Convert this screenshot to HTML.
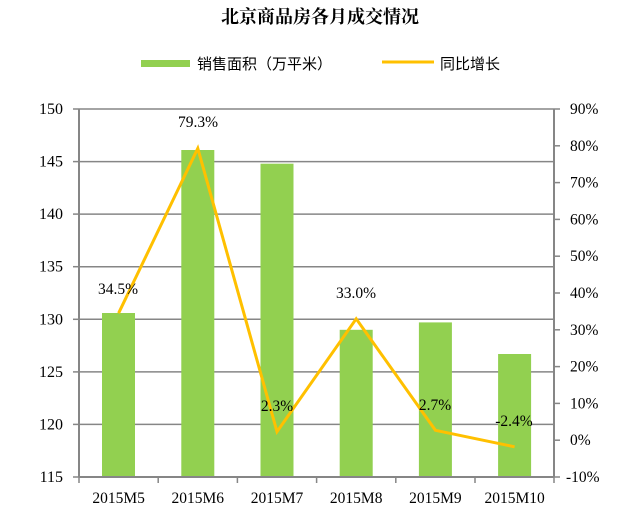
<!DOCTYPE html>
<html><head><meta charset="utf-8"><style>
body{margin:0;background:#fff}
text{font-family:"Liberation Serif","Noto Serif CJK SC",serif;fill:#000}
.c{font-family:"Liberation Sans","Noto Sans CJK SC",sans-serif}
</style></head><body>
<svg width="640" height="520" xmlns="http://www.w3.org/2000/svg">
<text x="320" y="23" text-anchor="middle" font-size="18" font-weight="bold" font-family="Noto Serif CJK SC, serif">北京商品房各月成交情况</text>
<rect x="141" y="60" width="49" height="7" fill="#92D050"/>
<text class="c" x="197" y="69" font-size="15">销售面积（万平米）</text>
<line x1="382" y1="62" x2="434" y2="62" stroke="#FFC000" stroke-width="3"/>
<text class="c" x="440" y="69" font-size="15">同比增长</text>
<g stroke="#868686" stroke-width="1.5">
<line x1="79" y1="109" x2="554" y2="109"/>
<line x1="79" y1="161.6" x2="554" y2="161.6"/>
<line x1="79" y1="214.1" x2="554" y2="214.1"/>
<line x1="79" y1="266.7" x2="554" y2="266.7"/>
<line x1="79" y1="319.3" x2="554" y2="319.3"/>
<line x1="79" y1="371.9" x2="554" y2="371.9"/>
<line x1="79" y1="424.4" x2="554" y2="424.4"/>
</g>
<g fill="#92D050">
<rect x="102" y="313" width="33" height="164"/>
<rect x="181.3" y="150" width="33" height="327"/>
<rect x="260.5" y="163.7" width="33" height="313.3"/>
<rect x="339.7" y="329.8" width="33" height="147.2"/>
<rect x="418.9" y="322.4" width="33" height="154.6"/>
<rect x="498.1" y="354" width="33" height="123"/>
</g>
<polyline fill="none" stroke="#FFC000" stroke-width="3" points="118.6,313.2 197.8,148.4 277,431.7 356.2,318.8 435.4,430.3 514.6,446.8"/>
<g stroke="#868686" stroke-width="2">
<line x1="79" y1="109" x2="79" y2="477"/>
<line x1="554" y1="109" x2="554" y2="477"/>
<line x1="79" y1="477" x2="554" y2="477"/>
</g>
<g stroke="#868686" stroke-width="1.5">
<line x1="73" y1="109" x2="79" y2="109"/><line x1="73" y1="161.6" x2="79" y2="161.6"/><line x1="73" y1="214.1" x2="79" y2="214.1"/><line x1="73" y1="266.7" x2="79" y2="266.7"/><line x1="73" y1="319.3" x2="79" y2="319.3"/><line x1="73" y1="371.9" x2="79" y2="371.9"/><line x1="73" y1="424.4" x2="79" y2="424.4"/><line x1="73" y1="477" x2="79" y2="477"/>
<line x1="554" y1="109" x2="560" y2="109"/><line x1="554" y1="145.8" x2="560" y2="145.8"/><line x1="554" y1="182.6" x2="560" y2="182.6"/><line x1="554" y1="219.4" x2="560" y2="219.4"/><line x1="554" y1="256.2" x2="560" y2="256.2"/><line x1="554" y1="293" x2="560" y2="293"/><line x1="554" y1="329.8" x2="560" y2="329.8"/><line x1="554" y1="366.6" x2="560" y2="366.6"/><line x1="554" y1="403.4" x2="560" y2="403.4"/><line x1="554" y1="440.2" x2="560" y2="440.2"/><line x1="554" y1="477" x2="560" y2="477"/>
<line x1="79" y1="477" x2="79" y2="483"/><line x1="158.2" y1="477" x2="158.2" y2="483"/><line x1="237.4" y1="477" x2="237.4" y2="483"/><line x1="316.6" y1="477" x2="316.6" y2="483"/><line x1="395.8" y1="477" x2="395.8" y2="483"/><line x1="475" y1="477" x2="475" y2="483"/><line x1="554" y1="477" x2="554" y2="483"/>
</g>
<g font-size="16" text-anchor="end">
<text x="63" y="114">150</text><text x="63" y="166.6">145</text><text x="63" y="219.1">140</text><text x="63" y="271.7">135</text><text x="63" y="324.3">130</text><text x="63" y="376.9">125</text><text x="63" y="429.4">120</text><text x="63" y="482">115</text>
</g>
<g font-size="15.5">
<text x="570" y="114">90%</text><text x="570" y="150.8">80%</text><text x="570" y="187.6">70%</text><text x="570" y="224.4">60%</text><text x="570" y="261.2">50%</text><text x="570" y="298">40%</text><text x="570" y="334.8">30%</text><text x="570" y="371.6">20%</text><text x="570" y="408.4">10%</text><text x="570" y="445.2">0%</text><text x="566" y="482">-10%</text>
</g>
<g font-size="15.5" text-anchor="middle">
<text x="118.6" y="503">2015M5</text><text x="197.8" y="503">2015M6</text><text x="277" y="503">2015M7</text><text x="356.2" y="503">2015M8</text><text x="435.4" y="503">2015M9</text><text x="514.6" y="503">2015M10</text>
<text x="118" y="294">34.5%</text><text x="198" y="127">79.3%</text><text x="277" y="411">2.3%</text><text x="356" y="298">33.0%</text><text x="435" y="410">2.7%</text><text x="514" y="426">-2.4%</text>
</g>
</svg>
</body></html>
